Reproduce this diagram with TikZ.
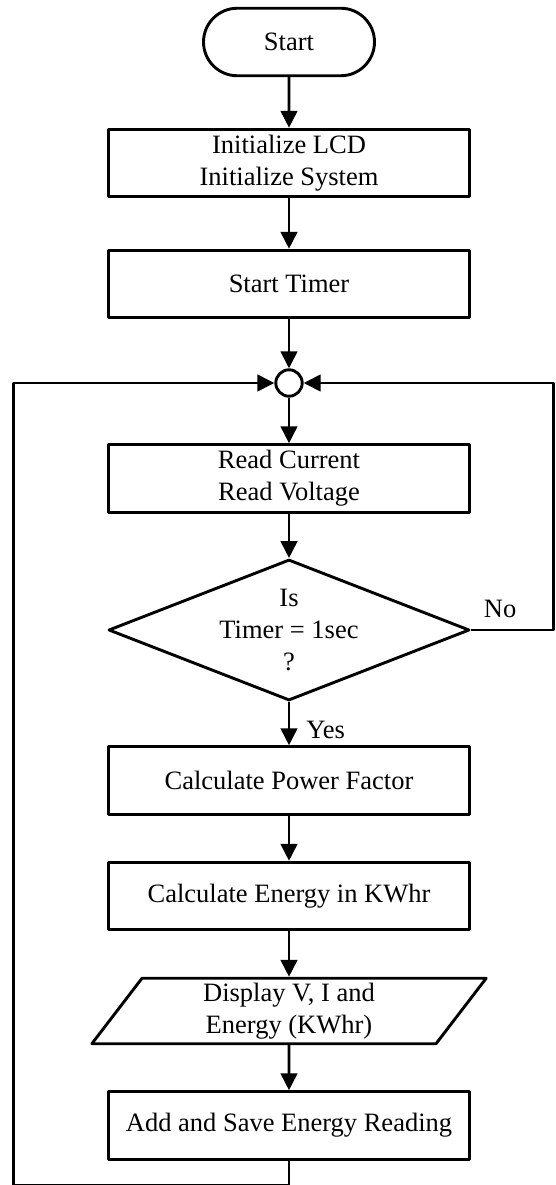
\documentclass[tikz,border=0pt]{standalone}
\usepackage{fontspec}
\setmainfont{Liberation Serif}
\usetikzlibrary{arrows.meta,shapes.geometric,shapes.misc}
\begin{document}
\begin{tikzpicture}[x=1pt,y=-1pt,
  line width=2.9pt, line join=round,
  every node/.style={font=\fontsize{26.5}{32}\selectfont, inner sep=0pt, align=center},
  proc/.style={draw, rectangle, minimum width=361pt, minimum height=67.5pt},
  term/.style={draw, rounded rectangle, minimum width=171pt, minimum height=67.5pt},
  decision/.style={draw, diamond, minimum width=361pt, minimum height=141pt},
  io/.style={draw, trapezium, trapezium left angle=62.4, trapezium right angle=117.6,
    trapezium stretches=true, minimum width=395pt, minimum height=65.5pt},
  junction/.style={draw, circle, minimum size=26.4pt},
  flow/.style={-{Triangle[length=17pt,width=16.5pt]}}
]
\useasboundingbox (0,0) rectangle (555,1185);

% main column
\node[term] (start) at (289,42) {Start};
\node[proc] (init) at (289,163) {Initialize LCD\\Initialize System};
\node[proc] (timer) at (289,284) {Start Timer};
\node[junction] (join) at (289,383) {};
\node[proc] (read) at (289,478.5) {Read Current\\Read Voltage};
\node[decision, label={[name=dectext]center:{Is\\Timer = 1sec\\?}}] (dec) at (289,630) {};
\node[proc] (pf) at (289,780.5) {Calculate Power Factor};
\node[proc] (energy) at (289,896) {Calculate Energy in KWhr};
\node[io] (disp) at (289,1011) {Display V, I and\\Energy (KWhr)};
\node[proc] (save) at (289,1125.5) {Add and Save Energy Reading};

% loop corners
\coordinate (bl) at (13.4,1185.3);
\coordinate (rx) at (553.7,630);

% connectors
\draw[flow] (start) -- (init);
\draw[flow] (init) -- (timer);
\draw[flow] (timer) -- (join);
\draw[flow] (join) -- (read);
\draw[flow] (read) -- (dec);
\draw[flow] (dec) -- node[at start, anchor=base west, xshift=16pt, yshift=-36.7pt] (yes) {Yes} (pf);
\draw[flow] (pf) -- (energy);
\draw[flow] (energy) -- (disp);
\draw[flow] (disp) -- (save);
\draw[flow] (save.south) -- (save.south |- bl) -- (bl) |- (join.west);
\draw[flow] (dec.east) -- node[at start, anchor=base west, xshift=11.5pt, yshift=13pt] (no) {No} (rx) |- (join.east);
\end{tikzpicture}
\end{document}
